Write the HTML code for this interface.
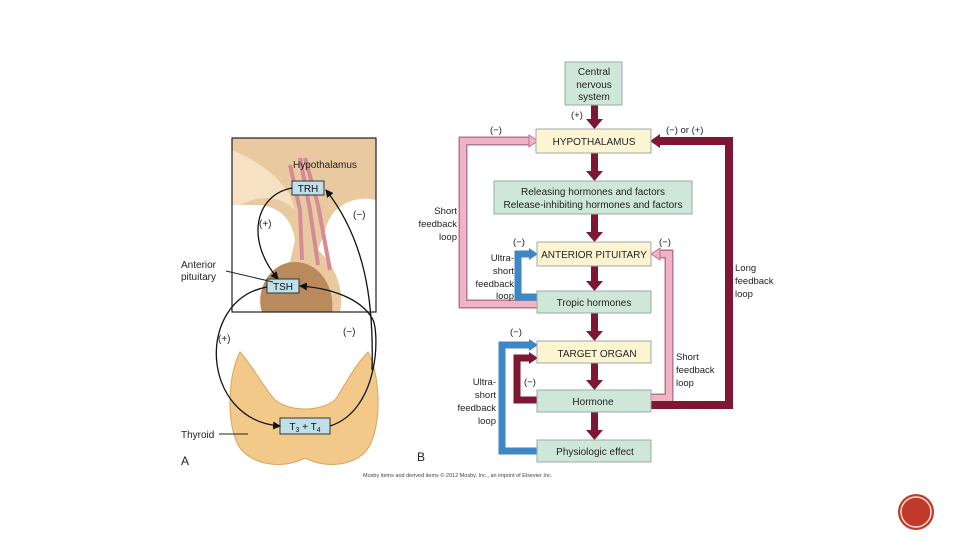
<!DOCTYPE html>
<html><head><style>
body{margin:0;width:960px;height:540px;background:#fff;overflow:hidden}
svg{display:block}
text{font-family:"Liberation Sans",sans-serif}
</style></head><body>
<svg width="960" height="540" viewBox="0 0 960 540">
<defs>
<marker id="ah" markerWidth="8" markerHeight="8" refX="7" refY="4" orient="auto" markerUnits="userSpaceOnUse"><path d="M0,0 L8,4 L0,8 z" fill="#111"/></marker>
<clipPath id="bx"><rect x="232" y="138" width="144" height="174"/></clipPath>
</defs>
<!-- Panel A -->
<g>
<path d="M240,352 C228,375 226,420 238,445 C250,465 282,470 305,458 C328,470 360,465 370,445 C382,420 380,375 368,352 C355,365 345,385 335,400 C320,412 290,412 275,400 C262,385 252,365 240,352 Z" fill="#f3c98a" stroke="#d9a55c"/>
<rect x="232" y="138" width="144" height="174" fill="#fff"/>
<g clip-path="url(#bx)">
<path d="M232,138 L376,138 L376,200 C355,195 335,205 328,222 L318,250 C335,265 345,290 340,312 L262,312 C255,292 268,270 290,262 L295,240 C292,220 280,205 255,205 L232,205 Z" fill="#e8c9a0"/>
<path d="M232,150 C255,160 275,172 290,195 L295,210 C280,195 260,195 240,205 L232,205 Z" fill="#f6e2c3"/>
<path d="M262,312 C255,290 270,262 295,262 C318,262 335,285 332,312 Z" fill="#b98a5c"/>
<path d="M290,165 L300,210 L302,260 M300,158 L310,210 L318,265 M305,158 L318,205 L330,270" stroke="#d58a96" stroke-width="4" fill="none"/>
<path d="M292,138 C300,126 335,126 345,138 Z" fill="#8f8478"/>
</g>
<rect x="232" y="138" width="144" height="174" fill="none" stroke="#222" stroke-width="1.2"/>
<text x="293" y="168" font-size="10" fill="#222">Hypothalamus</text>
<rect x="292" y="181" width="32" height="14" fill="#bfe0ea" stroke="#333"/>
<text x="308" y="192" font-size="10" text-anchor="middle" fill="#111">TRH</text>
<rect x="267" y="279" width="32" height="14" fill="#bfe0ea" stroke="#333"/>
<text x="283" y="290" font-size="10" text-anchor="middle" fill="#111">TSH</text>
<rect x="280" y="418" width="50" height="16" fill="#bfe0ea" stroke="#333"/>
<text x="305" y="430" font-size="10" text-anchor="middle" fill="#111">T<tspan font-size="7" dy="2">3</tspan><tspan dy="-2"> + T</tspan><tspan font-size="7" dy="2">4</tspan></text>
<path d="M292,188 C255,195 245,240 278,279" stroke="#111" stroke-width="1.3" fill="none" marker-end="url(#ah)"/>
<path d="M267,287 C195,300 200,420 280,426" stroke="#111" stroke-width="1.3" fill="none" marker-end="url(#ah)"/>
<path d="M330,426 C380,410 380,330 372,318 C360,298 330,288 300,286" stroke="#111" stroke-width="1.3" fill="none" marker-end="url(#ah)"/>
<path d="M372,370 C374,300 365,240 326,190" stroke="#111" stroke-width="1.3" fill="none" marker-end="url(#ah)"/>
<text x="259" y="227" font-size="10" fill="#222">(+)</text>
<text x="353" y="218" font-size="10" fill="#222">(−)</text>
<text x="218" y="342" font-size="10" fill="#222">(+)</text>
<text x="343" y="335" font-size="10" fill="#222">(−)</text>
<text x="181" y="268" font-size="10" fill="#222">Anterior</text>
<text x="181" y="280" font-size="10" fill="#222">pituitary</text>
<line x1="226" y1="271" x2="273" y2="282" stroke="#222"/>
<text x="181" y="438" font-size="10" fill="#222">Thyroid</text>
<line x1="219" y1="434" x2="248" y2="434" stroke="#222"/>
<text x="181" y="465" font-size="12" fill="#222">A</text>
</g>
<!-- Panel B loops -->
<g fill="none" stroke-linejoin="miter">
<path d="M537,304 L463,304 L463,141 L530,141" stroke="#b07a8c" stroke-width="9"/>
<path d="M537,304 L463,304 L463,141 L530,141" stroke="#f3b3c6" stroke-width="6"/>
<path d="M651,398 L669,398 L669,254 L658,254" stroke="#b07a8c" stroke-width="9"/>
<path d="M651,398 L669,398 L669,254 L658,254" stroke="#f3b3c6" stroke-width="6"/>
<path d="M651,405 L729,405 L729,141 L658,141" stroke="#7d1733" stroke-width="8"/>
<path d="M537,297 L518,297 L518,254 L530,254" stroke="#3d87c4" stroke-width="7"/>
<path d="M537,451 L502,451 L502,345 L530,345" stroke="#3d87c4" stroke-width="7"/>
<path d="M537,400 L517,400 L517,358 L530,358" stroke="#7d1733" stroke-width="7"/>
</g>
<g>
<path d="M529,135 L538,141 L529,147 Z" fill="#f3b3c6" stroke="#b07a8c"/>
<path d="M660,248 L651,254 L660,260 Z" fill="#f3b3c6" stroke="#b07a8c"/>
<path d="M660,134 L650,141 L660,148 Z" fill="#7d1733"/>
<path d="M529,248 L538,254 L529,260 Z" fill="#3d87c4"/>
<path d="M529,339 L538,345 L529,351 Z" fill="#3d87c4"/>
<path d="M529,352 L538,358 L529,364 Z" fill="#7d1733"/>
</g>
<g fill="#7d1733">
<rect x="591" y="105" width="7" height="16"/><path d="M586,119 L603,119 L594.5,129 Z"/>
<rect x="591" y="153" width="7" height="20"/><path d="M586,171 L603,171 L594.5,181 Z"/>
<rect x="591" y="214" width="7" height="20"/><path d="M586,232 L603,232 L594.5,242 Z"/>
<rect x="591" y="266" width="7" height="17"/><path d="M586,281 L603,281 L594.5,291 Z"/>
<rect x="591" y="313" width="7" height="20"/><path d="M586,331 L603,331 L594.5,341 Z"/>
<rect x="591" y="363" width="7" height="19"/><path d="M586,380 L603,380 L594.5,390 Z"/>
<rect x="591" y="412" width="7" height="20"/><path d="M586,430 L603,430 L594.5,440 Z"/>
</g>
<g stroke="#9aa" stroke-width="1" font-size="10" fill="#222">
<rect x="565" y="62" width="57" height="43" fill="#cfe7d9"/>
<rect x="536" y="129" width="115" height="24" fill="#fdf5d2"/>
<rect x="494" y="181" width="198" height="33" fill="#cfe7d9"/>
<rect x="537" y="242" width="114" height="24" fill="#fdf5d2"/>
<rect x="537" y="291" width="114" height="22" fill="#cfe7d9"/>
<rect x="537" y="341" width="114" height="22" fill="#fdf5d2"/>
<rect x="537" y="390" width="114" height="22" fill="#cfe7d9"/>
<rect x="537" y="440" width="114" height="22" fill="#cfe7d9"/>
</g>
<g font-size="10" fill="#222" text-anchor="middle">
<text x="594" y="75">Central</text><text x="594" y="88">nervous</text><text x="594" y="100">system</text>
<text x="594" y="145">HYPOTHALAMUS</text>
<text x="593" y="195">Releasing hormones and factors</text>
<text x="593" y="208">Release-inhibiting hormones and factors</text>
<text x="594" y="258">ANTERIOR PITUITARY</text>
<text x="594" y="306">Tropic hormones</text>
<text x="597" y="357">TARGET ORGAN</text>
<text x="593" y="405">Hormone</text>
<text x="595" y="455">Physiologic effect</text>
</g>
<g font-size="9.5" fill="#222">
<text x="571" y="118">(+)</text>
<text x="490" y="133">(−)</text>
<text x="666" y="133">(−) or (+)</text>
<text x="513" y="245">(−)</text>
<text x="659" y="245">(−)</text>
<text x="510" y="335">(−)</text>
<text x="524" y="385">(−)</text>
<g text-anchor="end">
<text x="457" y="214">Short</text><text x="457" y="227">feedback</text><text x="457" y="240">loop</text>
<text x="514" y="261">Ultra-</text><text x="514" y="274">short</text><text x="514" y="287">feedback</text><text x="514" y="299">loop</text>
<text x="496" y="385">Ultra-</text><text x="496" y="398">short</text><text x="496" y="411">feedback</text><text x="496" y="424">loop</text>
</g>
<text x="735" y="271">Long</text><text x="735" y="284">feedback</text><text x="735" y="297">loop</text>
<text x="676" y="360">Short</text><text x="676" y="373">feedback</text><text x="676" y="386">loop</text>
</g>
<text x="417" y="461" font-size="12" fill="#222">B</text>
<text x="363" y="477" font-size="5.5" fill="#444">Mosby items and derived items © 2012 Mosby, Inc., an imprint of Elsevier Inc.</text>
<circle cx="916" cy="512" r="18" fill="#c0392b"/>
<circle cx="916" cy="512" r="15" fill="none" stroke="#f3e0d0" stroke-width="1.5"/>
</svg>
</body></html>
